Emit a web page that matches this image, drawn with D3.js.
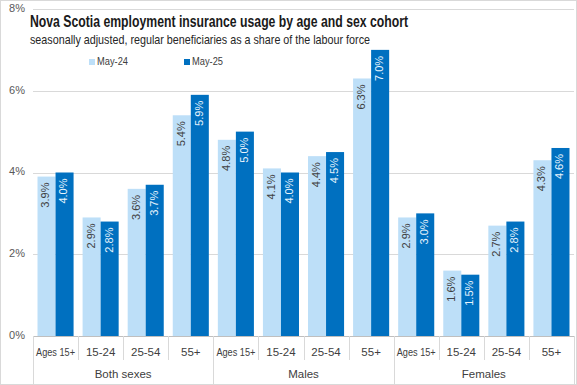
<!DOCTYPE html>
<html>
<head>
<meta charset="utf-8">
<script src="https://cdn.jsdelivr.net/npm/d3@7"></script>
<style>
  body { margin: 0; background: #fff; }
  svg { display: block; }
  text { font-family: "Liberation Sans", Arial, sans-serif; }
</style>
</head>
<body>
<script>
// data
const groups = ["Both sexes", "Males", "Females"]
const ages = ["Ages 15+", "15-24", "25-54", "55+"]
const seriesNames = ["May-24", "May-25"]
const may24 = [3.9, 2.9, 3.6, 5.4, 4.8, 4.1, 4.4, 6.3, 2.9, 1.6, 2.7, 4.3]
const may25 = [4.0, 2.8, 3.7, 5.9, 5.0, 4.0, 4.5, 7.0, 3.0, 1.5, 2.8, 4.6]
const yTicks = [0, 2, 4, 6, 8]
const colors = ["#BDDFF8", "#0070C0"]

var W = 577, H = 385
var margin = { left: 33, right: 3, top: 9, bottom: 49 }
var svg = d3.select("body").append("svg").attr("width", W).attr("height", H)

svg.append("rect").attr("x", 0.5).attr("y", 0.5).attr("width", W - 1).attr("height", H - 1)
    .attr("fill", "#fff").attr("stroke", "#d9d9d9")

var cats = []
groups.forEach((g, gi) => ages.forEach((a, ai) => cats.push({ key: g + "|" + a, group: g, age: a, i: gi * 4 + ai })))

var x0 = d3.scaleBand().domain(cats.map(d => d.key)).range([margin.left, W - margin.right]).paddingInner(0).paddingOuter(0)
var x1 = d3.scaleBand().domain(seriesNames).range([0, x0.bandwidth()]).paddingInner(0).paddingOuter(0.25)
var y = d3.scaleLinear().domain([0, 8]).range([H - margin.bottom, margin.top])

// gridlines
svg.append("g").selectAll("line").data(yTicks).join("line")
    .attr("x1", margin.left).attr("x2", W - margin.right)
    .attr("y1", d => Math.round(y(d)) + 0.5).attr("y2", d => Math.round(y(d)) + 0.5)
    .attr("stroke", d => d == 0 ? "#bfbfbf" : "#d9d9d9").attr("stroke-width", 1)
svg.append("g").selectAll("text").data(yTicks).join("text")
    .attr("x", 25).attr("y", d => y(d)).attr("text-anchor", "end").attr("dominant-baseline", "middle")
    .attr("font-size", 11).attr("fill", "#595959").text(d => d + "%")

// bars
var rows = cats.map(c => ({ key: c.key, vals: [may24[c.i], may25[c.i]] }))
var cg = svg.append("g").selectAll("g").data(rows).join("g").attr("transform", d => "translate(" + x0(d.key) + ",0)")
cg.selectAll("rect").data(d => d.vals.map((v, si) => ({ v: v, s: seriesNames[si], si: si }))).join("rect")
    .attr("x", d => x1(d.s)).attr("width", x1.bandwidth())
    .attr("y", d => y(d.v)).attr("height", d => y(0) - y(d.v))
    .attr("fill", d => colors[d.si])
cg.selectAll(".lbl").data(d => d.vals.map((v, si) => ({ v: v, s: seriesNames[si], si: si }))).join("text")
    .attr("class", "lbl")
    .attr("transform", d => "translate(" + (x1(d.s) + x1.bandwidth() / 2) + "," + (y(d.v) + 6) + ") rotate(-90)")
    .attr("text-anchor", "end").attr("dominant-baseline", "middle")
    .attr("font-size", 11).attr("fill", d => d.si == 0 ? "#404040" : "#e8f4fc")
    .text(d => d.v.toFixed(1) + "%")

// category axis
var axisY = y(0)
var bw = x0.bandwidth()
svg.append("g").selectAll("line").data(d3.range(cats.length + 1)).join("line")
    .attr("x1", i => Math.round(margin.left + i * bw) + 0.5).attr("x2", i => Math.round(margin.left + i * bw) + 0.5)
    .attr("y1", axisY).attr("y2", i => i % 4 == 0 ? H - 1 : axisY + 24)
    .attr("stroke", "#d9d9d9")
svg.append("g").selectAll("text").data(cats).join("text")
    .attr("x", d => x0(d.key) + bw / 2).attr("y", axisY + 20).attr("text-anchor", "middle")
    .attr("font-size", 11.5).attr("fill", "#404040")
    .attr("textLength", d => d.age == "Ages 15+" ? 39 : null).attr("lengthAdjust", "spacingAndGlyphs")
    .text(d => d.age)
svg.append("g").selectAll("text").data(groups).join("text")
    .attr("x", (d, i) => margin.left + (i * 4 + 2) * bw).attr("y", axisY + 42).attr("text-anchor", "middle")
    .attr("font-size", 11.5).attr("fill", "#404040").text(d => d)

// title
svg.append("text").attr("x", 30).attr("y", 27).attr("font-size", 17).attr("font-weight", "bold").attr("fill", "#1a1a1a")
    .attr("textLength", 378).attr("lengthAdjust", "spacingAndGlyphs")
    .text("Nova Scotia employment insurance usage by age and sex cohort")
svg.append("text").attr("x", 30).attr("y", 44).attr("font-size", 13).attr("fill", "#262626")
    .attr("textLength", 340).attr("lengthAdjust", "spacingAndGlyphs")
    .text("seasonally adjusted, regular beneficiaries as a share of the labour force")

// legend
var leg = svg.append("g").selectAll("g").data(seriesNames).join("g")
    .attr("transform", (d, i) => "translate(" + (89 + i * 95) + ",62)")
leg.append("rect").attr("x", 0).attr("y", -3).attr("width", 6).attr("height", 6).attr("fill", (d, i) => colors[i])
leg.append("text").attr("x", 8).attr("y", 0).attr("dominant-baseline", "middle").attr("font-size", 11.5)
    .attr("fill", "#404040").attr("textLength", 31).attr("lengthAdjust", "spacingAndGlyphs").text(d => d)
</script>
</body>
</html>
